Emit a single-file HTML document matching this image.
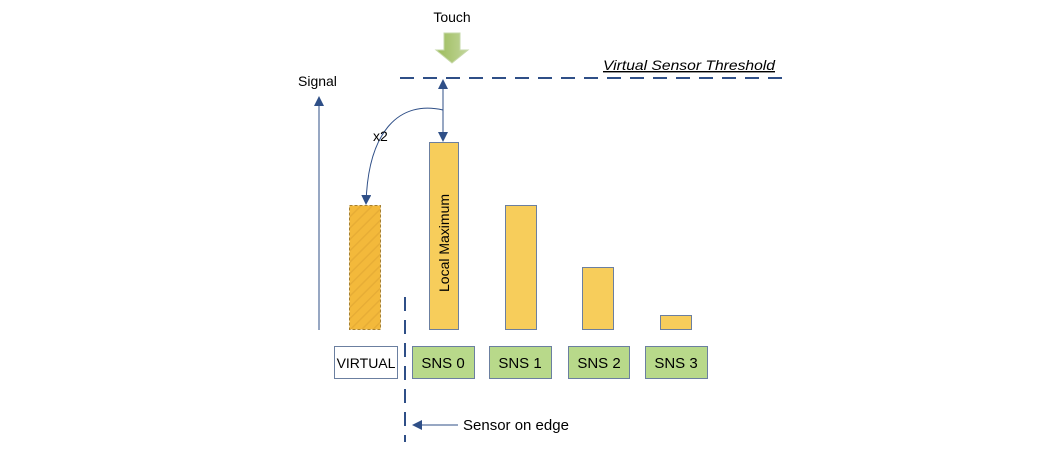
<!DOCTYPE html>
<html><head><style>
body{margin:0;background:#fff;}
svg text{font-family:"Liberation Sans",sans-serif;}
</style></head><body>
<svg width="1054" height="454" viewBox="0 0 1054 454" xmlns="http://www.w3.org/2000/svg">
<defs>
<marker id="ah" markerWidth="10" markerHeight="10" refX="9" refY="5" orient="auto" markerUnits="userSpaceOnUse">
<path d="M0,0 L10,5 L0,10 z" fill="#2f4f87"/></marker>
<pattern id="hatch" width="8" height="8" patternUnits="userSpaceOnUse" patternTransform="rotate(45)">
<rect width="8" height="8" fill="#f3b93b"/><line x1="0" y1="0" x2="0" y2="8" stroke="#e7ad36" stroke-width="3"/></pattern>
<linearGradient id="g" x1="0" x2="1"><stop offset="0" stop-color="#9bbb59"/><stop offset="1" stop-color="#c2d69b"/></linearGradient>
</defs>
<text x="452" y="22" font-size="14" text-anchor="middle">Touch</text>
<path d="M444,33 H460 V50 H468 L452,63 L436,50 H444 Z" fill="url(#g)" stroke="#c6d8a8" stroke-width="1"/>
<line x1="400" y1="78" x2="785" y2="78" stroke="#2f4f87" stroke-width="2" stroke-dasharray="14,9"/>
<text x="603" y="70" font-size="14" font-style="italic" text-decoration="underline" textLength="172" lengthAdjust="spacingAndGlyphs">Virtual Sensor Threshold</text>
<text x="298" y="86" font-size="14">Signal</text>
<line x1="319" y1="330" x2="319" y2="97" stroke="#2f4f87" stroke-width="1" marker-end="url(#ah)"/>
<line x1="443" y1="110" x2="443" y2="80" stroke="#2f4f87" stroke-width="1" marker-end="url(#ah)"/>
<line x1="443" y1="110" x2="443" y2="141" stroke="#2f4f87" stroke-width="1" marker-end="url(#ah)"/>
<path d="M443,110 C400,100 368,130 366,204" fill="none" stroke="#2f4f87" stroke-width="1" marker-end="url(#ah)"/>
<text x="373" y="141" font-size="14">x2</text>
<rect x="349.5" y="205.5" width="31" height="124" fill="url(#hatch)" stroke="#a68030" stroke-dasharray="3,2"/>
<rect x="429.5" y="142.5" width="29" height="187" fill="#f7cd5b" stroke="#6b7fa0"/>
<text transform="translate(449,292) rotate(-90)" font-size="14">Local Maximum</text>
<rect x="505.5" y="205.5" width="31" height="124" fill="#f7cd5b" stroke="#6b7fa0"/>
<rect x="582.5" y="267.5" width="31" height="62" fill="#f7cd5b" stroke="#6b7fa0"/>
<rect x="660.5" y="315.5" width="31" height="14" fill="#f7cd5b" stroke="#6b7fa0"/>
<rect x="334.5" y="346.5" width="63" height="32" fill="#fff" stroke="#6b7fa0"/>
<text x="366" y="368" font-size="14" text-anchor="middle">VIRTUAL</text>
<g fill="#b8d98a" stroke="#6b7fa0">
<rect x="412.5" y="346.5" width="62" height="32"/>
<rect x="489.5" y="346.5" width="62" height="32"/>
<rect x="568.5" y="346.5" width="61" height="32"/>
<rect x="645.5" y="346.5" width="62" height="32"/>
</g>
<g font-size="15" text-anchor="middle">
<text x="443" y="368">SNS 0</text><text x="520" y="368">SNS 1</text>
<text x="599" y="368">SNS 2</text><text x="676" y="368">SNS 3</text>
</g>
<line x1="405" y1="297" x2="405" y2="442" stroke="#2f4f87" stroke-width="2" stroke-dasharray="14,9"/>
<line x1="458" y1="425" x2="413" y2="425" stroke="#2f4f87" stroke-width="1" marker-end="url(#ah)"/>
<text x="463" y="430" font-size="15">Sensor on edge</text>
</svg>
</body></html>
